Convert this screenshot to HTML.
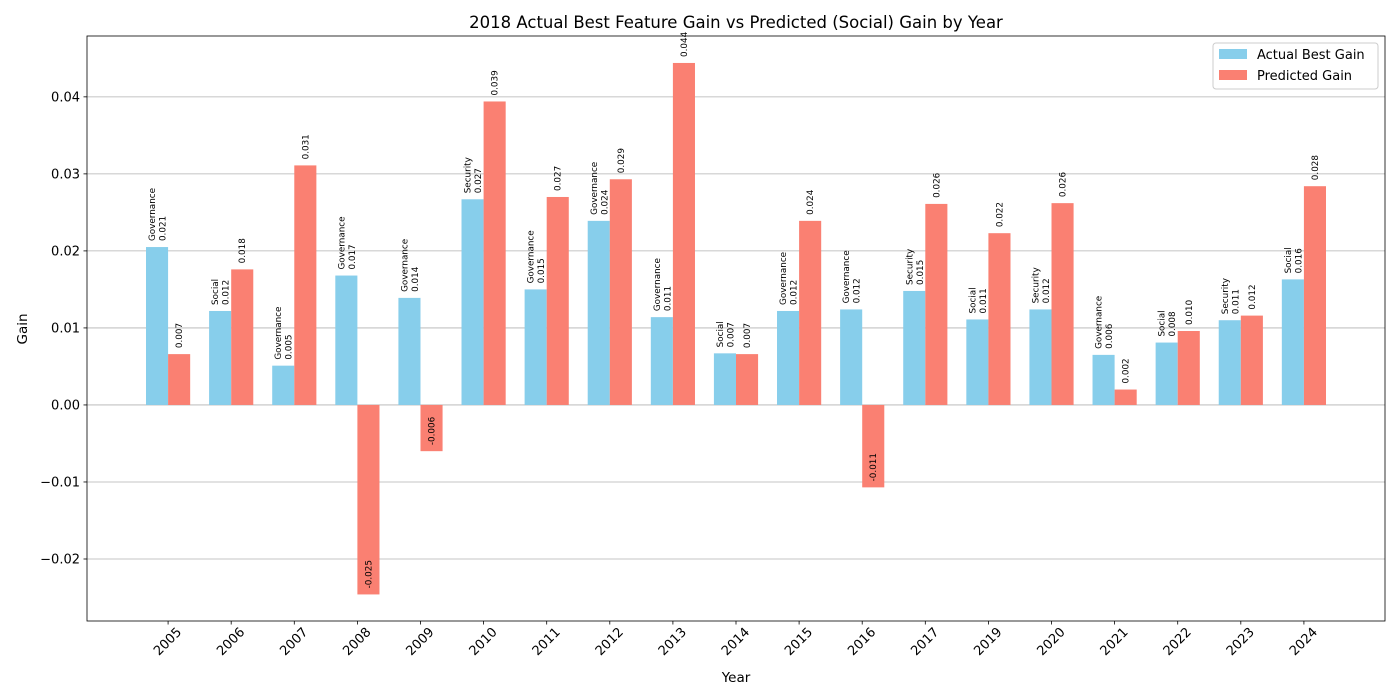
<!DOCTYPE html>
<html><head><meta charset="utf-8"><style>
body{margin:0;background:#fff;}
svg{display:block;font-family:"DejaVu Sans","Liberation Sans",sans-serif;}
</style></head><body>
<svg id="chart" width="1400" height="700" xmlns="http://www.w3.org/2000/svg">
<rect width="1400" height="700" fill="#fff"/>
<text x="736" y="28" font-size="16.5" text-anchor="middle">2018 Actual Best Feature Gain vs Predicted (Social) Gain by Year</text>
<g id="grid"></g><g id="bars"></g><g id="labels"></g><g id="axes"></g>
<text x="736" y="682" font-size="13.5" text-anchor="middle">Year</text>
<text transform="translate(27,329) rotate(-90)" font-size="13.5" text-anchor="middle">Gain</text>
<g>
<rect x="1213" y="43" width="165" height="46" rx="3" fill="#fff" fill-opacity="0.8" stroke="#ccc"/>
<rect x="1219" y="49" width="28" height="10" fill="#87CEEB"/>
<text x="1257" y="59" font-size="13">Actual Best Gain</text>
<rect x="1219" y="70" width="28" height="10" fill="#FA8072"/>
<text x="1257" y="80" font-size="13">Predicted Gain</text>
</g>
</svg>
<script>
const years=["2005","2006","2007","2008","2009","2010","2011","2012","2013","2014","2015","2016","2017","2019","2020","2021","2022","2023","2024"];
const actual=[0.0205,0.0122,0.0051,0.0168,0.0139,0.0267,0.0150,0.0239,0.0114,0.0067,0.0122,0.0124,0.0148,0.0111,0.0124,0.0065,0.0081,0.0110,0.0163];
const predicted=[0.0066,0.0176,0.0311,-0.0246,-0.0060,0.0394,0.0270,0.0293,0.0444,0.0066,0.0239,-0.0107,0.0261,0.0223,0.0262,0.0020,0.0096,0.0116,0.0284];
const features=["Governance","Social","Governance","Governance","Governance","Security","Governance","Governance","Governance","Social","Governance","Governance","Security","Social","Security","Governance","Social","Security","Social"];
const yTicks=[-0.02,-0.01,0,0.01,0.02,0.03,0.04];
const L=87,R=1385,T=36,B=621;
const yMin=-0.02805,yMax=0.0479,xMin=-1.285,xMax=years.length-1+1.285;
const ys=v=>B-(v-yMin)/(yMax-yMin)*(B-T);
const xs=i=>L+(i-xMin)/(xMax-xMin)*(R-L);
const bw=0.35*(R-L)/(xMax-xMin);
const NS="http://www.w3.org/2000/svg";
function mk(tag,attrs,parent,txt){const e=document.createElementNS(NS,tag);for(const k in attrs)e.setAttribute(k,attrs[k]);if(txt!==undefined)e.textContent=txt;document.getElementById(parent).appendChild(e);return e;}
const fmt=v=>(v<0?"-":"")+Math.abs(v).toFixed(3);
yTicks.forEach(t=>{
  const y=ys(t);
  const g=mk("line",{x1:L,x2:R,y1:y,y2:y,stroke:"#b0b0b0","stroke-width":0.8},"grid");
  
  
  mk("line",{x1:L-3.5,x2:L,y1:y,y2:y,stroke:"#000","stroke-width":0.8},"axes");
  const lb=mk("text",{x:L-7,y:y+4.5,"font-size":13,"text-anchor":"end"},"axes",(t<0?"\u2212":"")+Math.abs(t).toFixed(2));
  
  
});
years.forEach((yr,i)=>{
  const cx=xs(i);
  const xa=cx-bw, xp=cx;
  const a=actual[i],p=predicted[i];
  const ra=mk("rect",{x:xa,y:Math.min(ys(a),ys(0)),width:bw,height:Math.abs(ys(a)-ys(0)),fill:"#87CEEB"},"bars");
  
  
  const rp=mk("rect",{x:xp,y:Math.min(ys(p),ys(0)),width:bw,height:Math.abs(ys(p)-ys(0)),fill:"#FA8072"},"bars");
  
  
  const acx=xa+bw/2, ay=ys(a)-6;
  const t1=mk("text",{transform:`translate(${acx-2},${ay}) rotate(-90)`,"font-size":8.8},"labels",features[i]);
  
  
  const t2=mk("text",{transform:`translate(${acx+8.5},${ay}) rotate(-90)`,"font-size":8.8},"labels",fmt(a));
  
  
  const pcx=xp+bw/2, py=ys(p)-6;
  const t3=mk("text",{transform:`translate(${pcx+3},${py}) rotate(-90)`,"font-size":8.8},"labels",fmt(p));
  
  
  mk("line",{x1:cx,x2:cx,y1:B,y2:B+3.5,stroke:"#000","stroke-width":0.8},"axes");
  const xl=mk("text",{transform:`translate(${cx},${B+21}) rotate(-45)`,"font-size":13,"text-anchor":"middle","dominant-baseline":"middle"},"axes",yr);
  
  
});
const fr=mk("rect",{x:L,y:T,width:R-L,height:B-T,fill:"none",stroke:"#000","stroke-width":0.8},"axes");


</script>
</body></html>
